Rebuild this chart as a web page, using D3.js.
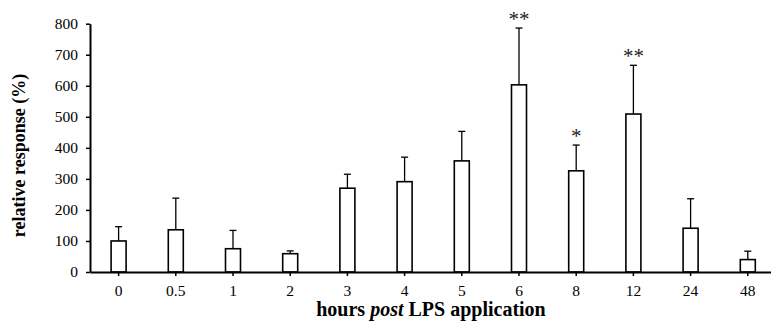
<!DOCTYPE html>
<html><head><meta charset="utf-8">
<script src="https://cdn.jsdelivr.net/npm/d3@7"></script>
<style>body{margin:0;background:#fff}svg{display:block}</style>
</head><body>
<script>
const categories = ["0","0.5","1","2","3","4","5","6","8","12","24","48"];
const means = [100,136,75,59,270,291,358,603,326,509,141,40];
const errUpper = [146,238,134,68,315,370,453,786,409,666,236,67];
const stars = ["","","","","","","","**","*","**","",""];
const yTicks = [0,100,200,300,400,500,600,700,800];

const W = 771, H = 322;
const svg = d3.select("body").append("svg").attr("width", W).attr("height", H);
const font = "'Liberation Serif','Times New Roman',serif";

const x = d3.scaleBand().domain(categories).range([90, 776.4]).paddingInner(0).paddingOuter(0);
const y = d3.scaleLinear().domain([0, 800]).range([272, 23.7]);
const bw = 15;

// bars
svg.append("g").selectAll("rect").data(categories).join("rect")
  .attr("x", d => x(d) + x.bandwidth()/2 - bw/2)
  .attr("y", (d,i) => y(means[i]))
  .attr("width", bw)
  .attr("height", (d,i) => y(0) - y(means[i]))
  .attr("fill", "#fff").attr("stroke", "#000").attr("stroke-width", 1.6);

// error bars
const eg = svg.append("g").attr("stroke", "#000").attr("stroke-width", 1.3);
categories.forEach((c,i) => {
  const cx = x(c) + x.bandwidth()/2;
  eg.append("line").attr("x1", cx).attr("x2", cx).attr("y1", y(means[i])).attr("y2", y(errUpper[i]));
  eg.append("line").attr("x1", cx-3.5).attr("x2", cx+3.5).attr("y1", y(errUpper[i])).attr("y2", y(errUpper[i]));
});

// stars
svg.append("g").selectAll("text").data(categories).join("text")
  .attr("x", d => x(d) + x.bandwidth()/2)
  .attr("y", (d,i) => y(errUpper[i]) - 2)
  .attr("text-anchor", "middle")
  .attr("font-family", font).attr("font-size", 21)
  .attr("fill", "#222")
  .text((d,i) => stars[i]);

// y axis
const ya = svg.append("g").attr("transform", "translate(90,0)")
  .call(d3.axisLeft(y).tickValues(yTicks).tickSize(4).tickPadding(8).tickSizeOuter(0));
ya.select(".domain").attr("stroke-width", 2);
ya.selectAll(".tick line").attr("stroke-width", 1.5);
ya.selectAll("text").attr("font-family", font).attr("font-size", 15.5).attr("fill", "#000");

// x axis
const xa = svg.append("g").attr("transform", "translate(0,272)")
  .call(d3.axisBottom(x).tickSize(4).tickPadding(9).tickSizeOuter(0));
xa.select(".domain").attr("stroke-width", 2);
xa.selectAll(".tick line").attr("stroke-width", 1.5);
xa.selectAll("text").attr("font-family", font).attr("font-size", 15.5).attr("fill", "#000");

// axis titles
const xt = svg.append("text").attr("x", 431).attr("y", 316)
  .attr("text-anchor", "middle").attr("font-family", font).attr("font-size", 20).attr("font-weight", "bold");
xt.append("tspan").text("hours ");
xt.append("tspan").attr("font-style", "italic").text("post");
xt.append("tspan").text(" LPS application");

svg.append("text").attr("transform", "translate(25,155.5) rotate(-90)")
  .attr("text-anchor", "middle").attr("font-family", font).attr("font-size", 18).attr("font-weight", "bold")
  .text("relative response (%)");
</script>
</body></html>
